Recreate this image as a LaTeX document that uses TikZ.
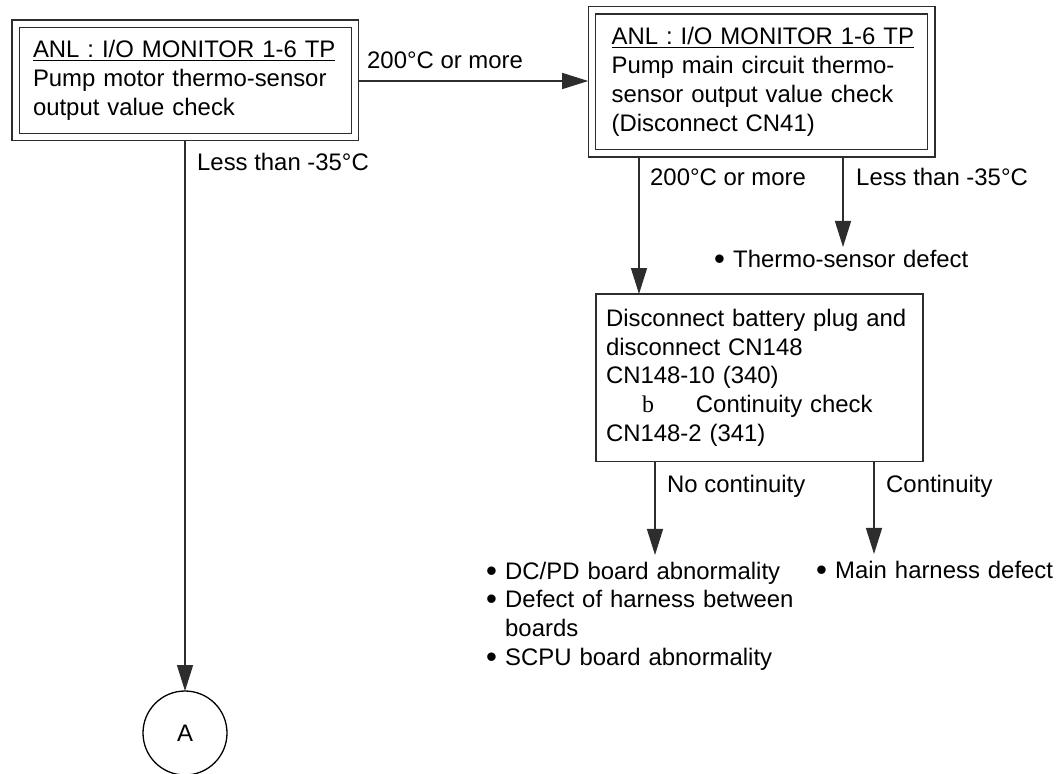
\documentclass[tikz,border=0pt]{standalone}
\usepackage{fontspec}
\setmainfont{Liberation Sans}
\newfontfamily\tmsfont{Liberation Serif}
\usetikzlibrary{arrows.meta}

\definecolor{ln}{RGB}{45,45,45}
\newcommand\fs{\fontsize{23.9pt}{28.8pt}\selectfont}
% underlined heading line
\newcommand\uln[1]{\leavevmode\setbox0\hbox{#1}\rlap{\rule[-3.2pt]{\wd0}{1.2pt}}\box0}
% bullet with fixed hanging width
\newcommand\bul{\makebox[19pt][l]{\raisebox{-2pt}{\scalebox{1.3}{•}}}}

\begin{document}
\begin{tikzpicture}[x=1pt,y=-1pt]
\tikzset{
  every node/.style={font=\fs, text=black},
  dbox/.style={draw=ln, line width=1.4pt, double, double distance=6pt,
    outer sep=3.7pt, inner ysep=0pt, align=left, anchor=north west},
  sbox/.style={draw=ln, line width=1.4pt, outer sep=0pt, inner ysep=0pt,
    align=left, anchor=north west},
  lab/.style={anchor=base west, inner sep=0pt},
  lst/.style={anchor=base west, inner sep=0pt, align=left, text width=400pt},
  arr/.style={draw=ln, line width=1.4pt, -{Triangle[length=26pt,width=16pt]}},
}
\fill[white] (0,0) rectangle (1059,773);
\useasboundingbox (0,0) rectangle (1059,773);

% check boxes
\node[dbox, minimum width=339.5pt, minimum height=113.2pt,
      inner xsep=17.5pt, text width=304.5pt] (box1) at (11.8,20.1)
  {\uln{ANL : I/O MONITOR 1-6 TP}\\Pump motor thermo-sensor\\output value check};

\node[dbox, minimum width=339.5pt, minimum height=143pt,
      inner xsep=19.7pt, text width=300.1pt] (box2) at (588.2,6.5)
  {\uln{ANL : I/O MONITOR 1-6 TP}\\Pump main circuit thermo-\\sensor output value check\\(Disconnect CN41)};

\node[sbox, minimum width=327pt, minimum height=167.5pt,
      inner xsep=10pt, text width=307pt] (box3) at (596,294)
  {Disconnect battery plug and\\disconnect CN148\\CN148-10 (340)\\
   \hspace*{36pt}{\tmsfont b}\hspace{42pt}Continuity check\\CN148-2 (341)};

% connector circle
\node[draw=black, line width=1.3pt, circle, minimum size=84pt, inner sep=0pt,
      outer sep=0pt] (circA) at (185,733) {A};

% results
\node[lst] (thermo) at (714,267) {\bul Thermo-sensor defect};
\node[lst] (nocont) at (486,579)
  {\bul DC/PD board abnormality\\\bul Defect of harness between\\\hspace*{19pt}boards\\\bul SCPU board abnormality};
\node[lst] (cont) at (816,578) {\bul Main harness defect};

% branch labels
\node[lab] (l1) at (367,69) {200°C or more};
\node[lab] (l2) at (197,170) {Less than -35°C};
\node[lab] (l3) at (650,185) {200°C or more};
\node[lab] (l4) at (856,185) {Less than -35°C};
\node[lab] (l5) at (667,492) {No continuity};
\node[lab] (l6) at (886,492) {Continuity};

% connector columns
\coordinate (yA) at (0,81);
\coordinate (xB) at (639,0);
\coordinate (xC) at (843,0);
\coordinate (xD) at (655,0);
\coordinate (xE) at (874,0);

\draw[arr] (box1.east |- yA) -- (box2.west |- yA);
\draw[arr] (box1.south -| circA.north) -- (circA.north);
\draw[arr] (box2.south -| xB) -- (box3.north -| xB);
\draw[arr, shorten >=2.5pt] (box2.south -| xC) -- (thermo.north -| xC);
\draw[arr, shorten >=6.5pt] (box3.south -| xD) -- (nocont.north -| xD);
\draw[arr, shorten >=6.5pt] (box3.south -| xE) -- (cont.north -| xE);
\end{tikzpicture}
\end{document}
